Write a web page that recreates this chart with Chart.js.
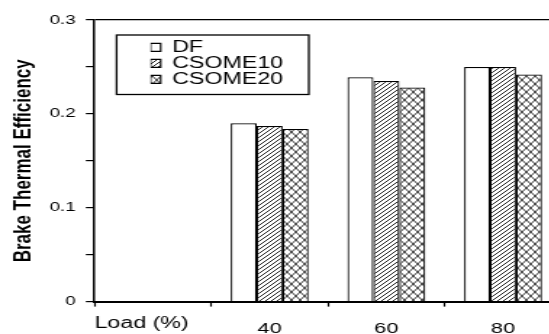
<!DOCTYPE html>
<html><head><meta charset="utf-8">
<script src="https://cdn.jsdelivr.net/npm/chart.js@4"></script>
<style>
html,body{margin:0;padding:0;overflow:hidden;background:#fff;width:549px;height:334px;}
#wrap{position:absolute;left:0;top:0;width:400px;height:345px;transform:scaleX(1.45);transform-origin:0 0;}
</style></head><body>
<div id="wrap"><canvas id="c" width="400" height="345"></canvas></div>
<script>
const categories = ['', '40', '60', '80'];
const xTitle = 'Load (%)';
const yTitle = 'Brake Thermal Efficiency';
const seriesNames = ['DF', 'CSOME10', 'CSOME20'];
const dfValues = [null, 0.190, 0.239, 0.250];
const csome10Values = [null, 0.187, 0.235, 0.250];
const csome20Values = [null, 0.184, 0.228, 0.242];
const yLabelTicks = [0, 0.1, 0.2, 0.3];

function makeHatch() {
  const t = document.createElement('canvas'); t.width = 4; t.height = 4;
  const g = t.getContext('2d');
  g.fillStyle = '#fff'; g.fillRect(0, 0, 4, 4);
  g.strokeStyle = '#222'; g.lineWidth = 1;
  g.beginPath();
  g.moveTo(-1, 5); g.lineTo(5, -1);
  g.moveTo(-1, 1); g.lineTo(1, -1);
  g.moveTo(3, 5); g.lineTo(5, 3);
  g.stroke();
  return g.createPattern(t, 'repeat');
}
function makeCross() {
  const t = document.createElement('canvas'); t.width = 6; t.height = 8;
  const g = t.getContext('2d');
  g.fillStyle = '#fff'; g.fillRect(0, 0, 6, 8);
  g.strokeStyle = '#222'; g.lineWidth = 0.9;
  g.beginPath();
  g.moveTo(0, 0); g.lineTo(6, 8);
  g.moveTo(6, 0); g.lineTo(0, 8);
  g.stroke();
  return g.createPattern(t, 'repeat');
}

const legendFrame = {
  id: 'legendFrame',
  afterLayout(chart, args, opts) {
    const lg = chart.legend; if (!lg) return;
    lg.left += opts.dx; lg.right += opts.dx; lg.top += opts.dy; lg.bottom += opts.dy;
  },
  afterDraw(chart, args, opts) {
    const lg = chart.legend; if (!lg) return;
    const ctx = chart.ctx;
    ctx.save(); ctx.strokeStyle = '#000'; ctx.lineWidth = 1.3;
    ctx.strokeRect(lg.left + opts.box.x, lg.top + opts.box.y, opts.box.w, opts.box.h);
    ctx.restore();
  }
};

Chart.defaults.font.family = "'Liberation Sans', Arial, sans-serif";
Chart.defaults.color = '#000';

new Chart(document.getElementById('c'), {
  type: 'bar',
  data: {
    labels: categories,
    datasets: [
      {label: seriesNames[0], data: dfValues, backgroundColor: '#fff', borderColor: '#000', borderWidth: 1.2},
      {label: seriesNames[1], data: csome10Values, backgroundColor: makeHatch(), borderColor: '#000', borderWidth: 1.2},
      {label: seriesNames[2], data: csome20Values, backgroundColor: makeCross(), borderColor: '#000', borderWidth: 1.2}
    ]
  },
  options: {
    responsive: false, animation: false, devicePixelRatio: 1,
    layout: {padding: {left: 0, top: 20, right: 12.8, bottom: 0}},
    datasets: {bar: {categoryPercentage: 0.667, barPercentage: 1}},
    plugins: {
      legend: {
        position: 'chartArea', align: 'start',
        labels: {boxWidth: 7, boxHeight: 8, padding: 0, color: '#000', font: {size: 16}}
      },
      tooltip: {enabled: false},
      legendFrame: {dx: 38.6, dy: 39.4, box: {x: -23.4, y: -4.4, w: 132.6, h: 59.5}}
    },
    scales: {
      x: {
        grid: {display: true, drawOnChartArea: false, offset: true, tickLength: 5, tickColor: '#000', tickWidth: 1.2},
        border: {display: true, color: '#000', width: 2},
        ticks: {padding: 13.4, color: '#000', font: {size: 15}, autoSkip: false, maxRotation: 0},
        title: {display: true, text: xTitle, align: 'start', color: '#000', font: {size: 16}, padding: {top: 0, bottom: 11.4}},
        afterFit(s) { s.height = 43.4; }
      },
      y: {
        min: 0, max: 0.3,
        ticks: {
          stepSize: 0.05, padding: 7, color: '#000', font: {size: 13},
          callback: (v) => { const t = yLabelTicks.find(t => Math.abs(t - v) < 1e-9); return t === undefined ? '' : String(t); }
        },
        grid: {
          drawOnChartArea: true,
          color: (c) => (c.tick && Math.abs(c.tick.value - 0.3) < 1e-9) ? '#000' : 'rgba(0,0,0,0)',
          lineWidth: 1.2, tickLength: 6, tickColor: '#000', tickWidth: 1.2
        },
        border: {display: true, color: '#000', width: 1.5},
        title: {display: true, text: yTitle, color: '#000', font: {size: 17, weight: 'bold'}, padding: {top: 6.3, bottom: 0}},
        afterFit(s) { s.width = 65.2; }
      }
    }
  },
  plugins: [legendFrame]
});
</script>
</body></html>
